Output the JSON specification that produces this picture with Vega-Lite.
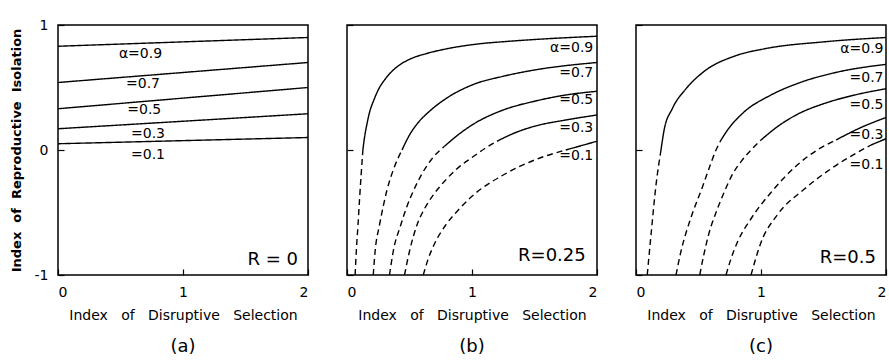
{
  "$schema": "https://vega.github.io/schema/vega-lite/v6.json",
  "background": "white",
  "padding": {"left": 9, "top": 17, "right": 2, "bottom": 2},
  "spacing": 39,
  "bounds": "flush",
  "config": {
    "view": {"stroke": "black", "strokeWidth": 1.5},
    "font": "DejaVu Sans",
    "axis": {"domain": false, "grid": false, "tickColor": "black", "tickSize": -6, "tickWidth": 1.2, "labelColor": "black", "titleColor": "black", "labelFont": "DejaVu Sans", "labelFontSize": 14, "titleFont": "DejaVu Sans", "titleFontWeight": "normal", "labelExpr": "'' + datum.value"},
    "title": {"color": "black", "font": "DejaVu Sans"},
    "line": {"color": "black", "strokeWidth": 1.4, "interpolate": "monotone"},
    "text": {"color": "black", "font": "DejaVu Sans"}
  },
  "datasets": {
    "ca": [
      {"alpha": 0.9, "seg": "solid", "x": 0, "y": 0.83}, {"alpha": 0.9, "seg": "solid", "x": 2, "y": 0.9},
      {"alpha": 0.7, "seg": "solid", "x": 0, "y": 0.54}, {"alpha": 0.7, "seg": "solid", "x": 2, "y": 0.7},
      {"alpha": 0.5, "seg": "solid", "x": 0, "y": 0.33}, {"alpha": 0.5, "seg": "solid", "x": 2, "y": 0.5},
      {"alpha": 0.3, "seg": "solid", "x": 0, "y": 0.17}, {"alpha": 0.3, "seg": "solid", "x": 2, "y": 0.29},
      {"alpha": 0.1, "seg": "solid", "x": 0, "y": 0.05}, {"alpha": 0.1, "seg": "solid", "x": 2, "y": 0.1}
    ],
    "cb": [
      {"alpha": 0.9, "seg": "dashed", "x": 0.065, "y": -1}, {"alpha": 0.9, "seg": "dashed", "x": 0.075, "y": -0.8}, {"alpha": 0.9, "seg": "dashed", "x": 0.088, "y": -0.6}, {"alpha": 0.9, "seg": "dashed", "x": 0.1, "y": -0.4}, {"alpha": 0.9, "seg": "dashed", "x": 0.113, "y": -0.2}, {"alpha": 0.9, "seg": "dashed", "x": 0.127, "y": 0.0},
      {"alpha": 0.9, "seg": "solid", "x": 0.127, "y": 0.0}, {"alpha": 0.9, "seg": "solid", "x": 0.14, "y": 0.1}, {"alpha": 0.9, "seg": "solid", "x": 0.158, "y": 0.2}, {"alpha": 0.9, "seg": "solid", "x": 0.18, "y": 0.3}, {"alpha": 0.9, "seg": "solid", "x": 0.215, "y": 0.4}, {"alpha": 0.9, "seg": "solid", "x": 0.26, "y": 0.5}, {"alpha": 0.9, "seg": "solid", "x": 0.3, "y": 0.56}, {"alpha": 0.9, "seg": "solid", "x": 0.35, "y": 0.62}, {"alpha": 0.9, "seg": "solid", "x": 0.42, "y": 0.68}, {"alpha": 0.9, "seg": "solid", "x": 0.51, "y": 0.73}, {"alpha": 0.9, "seg": "solid", "x": 0.63, "y": 0.77}, {"alpha": 0.9, "seg": "solid", "x": 0.8, "y": 0.81}, {"alpha": 0.9, "seg": "solid", "x": 1.02, "y": 0.845}, {"alpha": 0.9, "seg": "solid", "x": 1.3, "y": 0.87}, {"alpha": 0.9, "seg": "solid", "x": 1.6, "y": 0.89}, {"alpha": 0.9, "seg": "solid", "x": 2, "y": 0.91},
      {"alpha": 0.7, "seg": "dashed", "x": 0.21, "y": -1}, {"alpha": 0.7, "seg": "dashed", "x": 0.225, "y": -0.81}, {"alpha": 0.7, "seg": "dashed", "x": 0.26, "y": -0.6}, {"alpha": 0.7, "seg": "dashed", "x": 0.29, "y": -0.45}, {"alpha": 0.7, "seg": "dashed", "x": 0.32, "y": -0.32}, {"alpha": 0.7, "seg": "dashed", "x": 0.37, "y": -0.16}, {"alpha": 0.7, "seg": "dashed", "x": 0.44, "y": 0.0},
      {"alpha": 0.7, "seg": "solid", "x": 0.44, "y": 0.0}, {"alpha": 0.7, "seg": "solid", "x": 0.5, "y": 0.12}, {"alpha": 0.7, "seg": "solid", "x": 0.57, "y": 0.22}, {"alpha": 0.7, "seg": "solid", "x": 0.66, "y": 0.31}, {"alpha": 0.7, "seg": "solid", "x": 0.79, "y": 0.41}, {"alpha": 0.7, "seg": "solid", "x": 1.0, "y": 0.52}, {"alpha": 0.7, "seg": "solid", "x": 1.25, "y": 0.59}, {"alpha": 0.7, "seg": "solid", "x": 1.5, "y": 0.64}, {"alpha": 0.7, "seg": "solid", "x": 2, "y": 0.7},
      {"alpha": 0.5, "seg": "dashed", "x": 0.34, "y": -1}, {"alpha": 0.5, "seg": "dashed", "x": 0.37, "y": -0.81}, {"alpha": 0.5, "seg": "dashed", "x": 0.43, "y": -0.6}, {"alpha": 0.5, "seg": "dashed", "x": 0.48, "y": -0.45}, {"alpha": 0.5, "seg": "dashed", "x": 0.53, "y": -0.33}, {"alpha": 0.5, "seg": "dashed", "x": 0.6, "y": -0.19}, {"alpha": 0.5, "seg": "dashed", "x": 0.68, "y": -0.07}, {"alpha": 0.5, "seg": "dashed", "x": 0.78, "y": 0.03},
      {"alpha": 0.5, "seg": "solid", "x": 0.78, "y": 0.03}, {"alpha": 0.5, "seg": "solid", "x": 0.9, "y": 0.13}, {"alpha": 0.5, "seg": "solid", "x": 1.0, "y": 0.2}, {"alpha": 0.5, "seg": "solid", "x": 1.25, "y": 0.32}, {"alpha": 0.5, "seg": "solid", "x": 1.5, "y": 0.39}, {"alpha": 0.5, "seg": "solid", "x": 1.75, "y": 0.44}, {"alpha": 0.5, "seg": "solid", "x": 2, "y": 0.47},
      {"alpha": 0.3, "seg": "dashed", "x": 0.46, "y": -1}, {"alpha": 0.3, "seg": "dashed", "x": 0.5, "y": -0.81}, {"alpha": 0.3, "seg": "dashed", "x": 0.56, "y": -0.6}, {"alpha": 0.3, "seg": "dashed", "x": 0.62, "y": -0.47}, {"alpha": 0.3, "seg": "dashed", "x": 0.69, "y": -0.36}, {"alpha": 0.3, "seg": "dashed", "x": 0.78, "y": -0.25}, {"alpha": 0.3, "seg": "dashed", "x": 0.88, "y": -0.15}, {"alpha": 0.3, "seg": "dashed", "x": 1.0, "y": -0.06}, {"alpha": 0.3, "seg": "dashed", "x": 1.1, "y": 0.01}, {"alpha": 0.3, "seg": "dashed", "x": 1.2, "y": 0.07},
      {"alpha": 0.3, "seg": "solid", "x": 1.2, "y": 0.07}, {"alpha": 0.3, "seg": "solid", "x": 1.35, "y": 0.14}, {"alpha": 0.3, "seg": "solid", "x": 1.5, "y": 0.19}, {"alpha": 0.3, "seg": "solid", "x": 1.75, "y": 0.24}, {"alpha": 0.3, "seg": "solid", "x": 2, "y": 0.28},
      {"alpha": 0.1, "seg": "dashed", "x": 0.61, "y": -1}, {"alpha": 0.1, "seg": "dashed", "x": 0.65, "y": -0.87}, {"alpha": 0.1, "seg": "dashed", "x": 0.7, "y": -0.75}, {"alpha": 0.1, "seg": "dashed", "x": 0.79, "y": -0.6}, {"alpha": 0.1, "seg": "dashed", "x": 0.9, "y": -0.47}, {"alpha": 0.1, "seg": "dashed", "x": 1.0, "y": -0.37}, {"alpha": 0.1, "seg": "dashed", "x": 1.25, "y": -0.2}, {"alpha": 0.1, "seg": "dashed", "x": 1.5, "y": -0.08}, {"alpha": 0.1, "seg": "dashed", "x": 1.75, "y": 0.0},
      {"alpha": 0.1, "seg": "solid", "x": 1.75, "y": 0.0}, {"alpha": 0.1, "seg": "solid", "x": 2, "y": 0.07}
    ],
    "cc": [
      {"alpha": 0.9, "seg": "dashed", "x": 0.09, "y": -1}, {"alpha": 0.9, "seg": "dashed", "x": 0.12, "y": -0.68}, {"alpha": 0.9, "seg": "dashed", "x": 0.16, "y": -0.28}, {"alpha": 0.9, "seg": "dashed", "x": 0.2, "y": 0.0},
      {"alpha": 0.9, "seg": "solid", "x": 0.2, "y": 0.0}, {"alpha": 0.9, "seg": "solid", "x": 0.225, "y": 0.16}, {"alpha": 0.9, "seg": "solid", "x": 0.29, "y": 0.33}, {"alpha": 0.9, "seg": "solid", "x": 0.4, "y": 0.49}, {"alpha": 0.9, "seg": "solid", "x": 0.54, "y": 0.625}, {"alpha": 0.9, "seg": "solid", "x": 0.8, "y": 0.755}, {"alpha": 0.9, "seg": "solid", "x": 1.03, "y": 0.81}, {"alpha": 0.9, "seg": "solid", "x": 1.5, "y": 0.865}, {"alpha": 0.9, "seg": "solid", "x": 2, "y": 0.9},
      {"alpha": 0.7, "seg": "dashed", "x": 0.32, "y": -1}, {"alpha": 0.7, "seg": "dashed", "x": 0.36, "y": -0.81}, {"alpha": 0.7, "seg": "dashed", "x": 0.44, "y": -0.54}, {"alpha": 0.7, "seg": "dashed", "x": 0.53, "y": -0.3}, {"alpha": 0.7, "seg": "dashed", "x": 0.58, "y": -0.16}, {"alpha": 0.7, "seg": "dashed", "x": 0.64, "y": 0.0}, {"alpha": 0.7, "seg": "dashed", "x": 0.68, "y": 0.08},
      {"alpha": 0.7, "seg": "solid", "x": 0.68, "y": 0.08}, {"alpha": 0.7, "seg": "solid", "x": 0.74, "y": 0.17}, {"alpha": 0.7, "seg": "solid", "x": 0.86, "y": 0.3}, {"alpha": 0.7, "seg": "solid", "x": 1.08, "y": 0.44}, {"alpha": 0.7, "seg": "solid", "x": 1.3, "y": 0.535}, {"alpha": 0.7, "seg": "solid", "x": 1.62, "y": 0.625}, {"alpha": 0.7, "seg": "solid", "x": 2, "y": 0.685},
      {"alpha": 0.5, "seg": "dashed", "x": 0.51, "y": -1}, {"alpha": 0.5, "seg": "dashed", "x": 0.54, "y": -0.85}, {"alpha": 0.5, "seg": "dashed", "x": 0.58, "y": -0.68}, {"alpha": 0.5, "seg": "dashed", "x": 0.64, "y": -0.5}, {"alpha": 0.5, "seg": "dashed", "x": 0.7, "y": -0.35}, {"alpha": 0.5, "seg": "dashed", "x": 0.78, "y": -0.18}, {"alpha": 0.5, "seg": "dashed", "x": 0.85, "y": -0.08}, {"alpha": 0.5, "seg": "dashed", "x": 0.92, "y": 0.0}, {"alpha": 0.5, "seg": "dashed", "x": 1.0, "y": 0.08},
      {"alpha": 0.5, "seg": "solid", "x": 1.0, "y": 0.08}, {"alpha": 0.5, "seg": "solid", "x": 1.15, "y": 0.2}, {"alpha": 0.5, "seg": "solid", "x": 1.3, "y": 0.29}, {"alpha": 0.5, "seg": "solid", "x": 1.5, "y": 0.37}, {"alpha": 0.5, "seg": "solid", "x": 1.75, "y": 0.44}, {"alpha": 0.5, "seg": "solid", "x": 2, "y": 0.49},
      {"alpha": 0.3, "seg": "dashed", "x": 0.72, "y": -1}, {"alpha": 0.3, "seg": "dashed", "x": 0.76, "y": -0.87}, {"alpha": 0.3, "seg": "dashed", "x": 0.81, "y": -0.74}, {"alpha": 0.3, "seg": "dashed", "x": 0.92, "y": -0.55}, {"alpha": 0.3, "seg": "dashed", "x": 1.08, "y": -0.34}, {"alpha": 0.3, "seg": "dashed", "x": 1.29, "y": -0.12}, {"alpha": 0.3, "seg": "dashed", "x": 1.45, "y": 0.0}, {"alpha": 0.3, "seg": "dashed", "x": 1.6, "y": 0.08},
      {"alpha": 0.3, "seg": "solid", "x": 1.6, "y": 0.08}, {"alpha": 0.3, "seg": "solid", "x": 1.8, "y": 0.18}, {"alpha": 0.3, "seg": "solid", "x": 2, "y": 0.26},
      {"alpha": 0.1, "seg": "dashed", "x": 0.92, "y": -1}, {"alpha": 0.1, "seg": "dashed", "x": 1.0, "y": -0.74}, {"alpha": 0.1, "seg": "dashed", "x": 1.13, "y": -0.52}, {"alpha": 0.1, "seg": "dashed", "x": 1.35, "y": -0.31}, {"alpha": 0.1, "seg": "dashed", "x": 1.56, "y": -0.15}, {"alpha": 0.1, "seg": "dashed", "x": 1.77, "y": -0.02}, {"alpha": 0.1, "seg": "dashed", "x": 1.88, "y": 0.04},
      {"alpha": 0.1, "seg": "solid", "x": 1.88, "y": 0.04}, {"alpha": 0.1, "seg": "solid", "x": 2, "y": 0.09}
    ],
    "la": [
      {"label": "α=0.9", "x": 0.66, "y": 0.77}, {"label": "=0.7", "x": 0.68, "y": 0.53}, {"label": "=0.5", "x": 0.69, "y": 0.32}, {"label": "=0.3", "x": 0.72, "y": 0.13}, {"label": "=0.1", "x": 0.72, "y": -0.04}
    ],
    "lb": [
      {"label": "α=0.9", "x": 1.97, "y": 0.82}, {"label": "=0.7", "x": 1.97, "y": 0.62}, {"label": "=0.5", "x": 1.97, "y": 0.4}, {"label": "=0.3", "x": 1.97, "y": 0.18}, {"label": "=0.1", "x": 1.97, "y": -0.05}
    ],
    "lc": [
      {"label": "α=0.9", "x": 1.98, "y": 0.81}, {"label": "=0.7", "x": 1.98, "y": 0.58}, {"label": "=0.5", "x": 1.98, "y": 0.36}, {"label": "=0.3", "x": 1.98, "y": 0.12}, {"label": "=0.1", "x": 1.98, "y": -0.12}
    ]
  },
  "hconcat": [
    {
      "width": 250, "height": 250,
      "title": {"text": "(a)", "orient": "bottom", "fontSize": 18, "fontWeight": "normal", "offset": 16},
      "layer": [
        {
          "data": {"name": "ca"},
          "mark": {"type": "line"},
          "encoding": {
            "x": {"field": "x", "type": "quantitative", "scale": {"domain": [0, 2]}, "axis": {"values": [0, 1, 2], "labelPadding": 16, "title": "Index\u00a0\u00a0 of\u00a0\u00a0 Disruptive\u00a0\u00a0 Selection", "titleFontSize": 14, "titlePadding": 9}},
            "y": {"field": "y", "type": "quantitative", "scale": {"domain": [-1, 1]}, "axis": {"values": [-1, 0, 1], "labelPadding": 16, "title": "Index\u00a0 of\u00a0 Reproductive\u00a0 Isolation", "titleFontSize": 13, "titleFontWeight": "bold", "titlePadding": 11}},
            "detail": {"field": "alpha", "type": "nominal"},
            "strokeDash": {"field": "seg", "type": "nominal", "scale": {"domain": ["solid", "dashed"], "range": [[1, 0], [6, 4]]}, "legend": null}
          }
        },
        {
          "data": {"name": "la"},
          "mark": {"type": "text", "fontSize": 14, "align": "center", "baseline": "middle"},
          "encoding": {"x": {"field": "x", "type": "quantitative"}, "y": {"field": "y", "type": "quantitative"}, "text": {"field": "label"}}
        },
        {
          "data": {"values": [{"label": "R = 0", "x": 1.92, "y": -0.88}]},
          "mark": {"type": "text", "fontSize": 18, "align": "right", "baseline": "middle"},
          "encoding": {"x": {"field": "x", "type": "quantitative"}, "y": {"field": "y", "type": "quantitative"}, "text": {"field": "label"}}
        }
      ]
    },
    {
      "width": 250, "height": 250,
      "title": {"text": "(b)", "orient": "bottom", "fontSize": 18, "fontWeight": "normal", "offset": 16},
      "layer": [
        {
          "data": {"name": "cb"},
          "mark": {"type": "line"},
          "encoding": {
            "x": {"field": "x", "type": "quantitative", "scale": {"domain": [0, 2]}, "axis": {"values": [0, 1, 2], "labelPadding": 16, "title": "Index\u00a0\u00a0 of\u00a0\u00a0 Disruptive\u00a0\u00a0 Selection", "titleFontSize": 14, "titlePadding": 9}},
            "y": {"field": "y", "type": "quantitative", "scale": {"domain": [-1, 1]}, "axis": {"values": [-1, 0, 1], "labels": false, "title": null}},
            "detail": {"field": "alpha", "type": "nominal"},
            "strokeDash": {"field": "seg", "type": "nominal", "scale": {"domain": ["solid", "dashed"], "range": [[1, 0], [6, 4]]}, "legend": null}
          }
        },
        {
          "data": {"name": "lb"},
          "mark": {"type": "text", "fontSize": 14, "align": "right", "baseline": "middle"},
          "encoding": {"x": {"field": "x", "type": "quantitative"}, "y": {"field": "y", "type": "quantitative"}, "text": {"field": "label"}}
        },
        {
          "data": {"values": [{"label": "R=0.25", "x": 1.91, "y": -0.85}]},
          "mark": {"type": "text", "fontSize": 18, "align": "right", "baseline": "middle"},
          "encoding": {"x": {"field": "x", "type": "quantitative"}, "y": {"field": "y", "type": "quantitative"}, "text": {"field": "label"}}
        }
      ]
    },
    {
      "width": 250, "height": 250,
      "title": {"text": "(c)", "orient": "bottom", "fontSize": 18, "fontWeight": "normal", "offset": 16},
      "layer": [
        {
          "data": {"name": "cc"},
          "mark": {"type": "line"},
          "encoding": {
            "x": {"field": "x", "type": "quantitative", "scale": {"domain": [0, 2]}, "axis": {"values": [0, 1, 2], "labelPadding": 16, "title": "Index\u00a0\u00a0 of\u00a0\u00a0 Disruptive\u00a0\u00a0 Selection", "titleFontSize": 14, "titlePadding": 9}},
            "y": {"field": "y", "type": "quantitative", "scale": {"domain": [-1, 1]}, "axis": {"values": [-1, 0, 1], "labels": false, "title": null}},
            "detail": {"field": "alpha", "type": "nominal"},
            "strokeDash": {"field": "seg", "type": "nominal", "scale": {"domain": ["solid", "dashed"], "range": [[1, 0], [6, 4]]}, "legend": null}
          }
        },
        {
          "data": {"name": "lc"},
          "mark": {"type": "text", "fontSize": 14, "align": "right", "baseline": "middle"},
          "encoding": {"x": {"field": "x", "type": "quantitative"}, "y": {"field": "y", "type": "quantitative"}, "text": {"field": "label"}}
        },
        {
          "data": {"values": [{"label": "R=0.5", "x": 1.92, "y": -0.86}]},
          "mark": {"type": "text", "fontSize": 18, "align": "right", "baseline": "middle"},
          "encoding": {"x": {"field": "x", "type": "quantitative"}, "y": {"field": "y", "type": "quantitative"}, "text": {"field": "label"}}
        }
      ]
    }
  ]
}
